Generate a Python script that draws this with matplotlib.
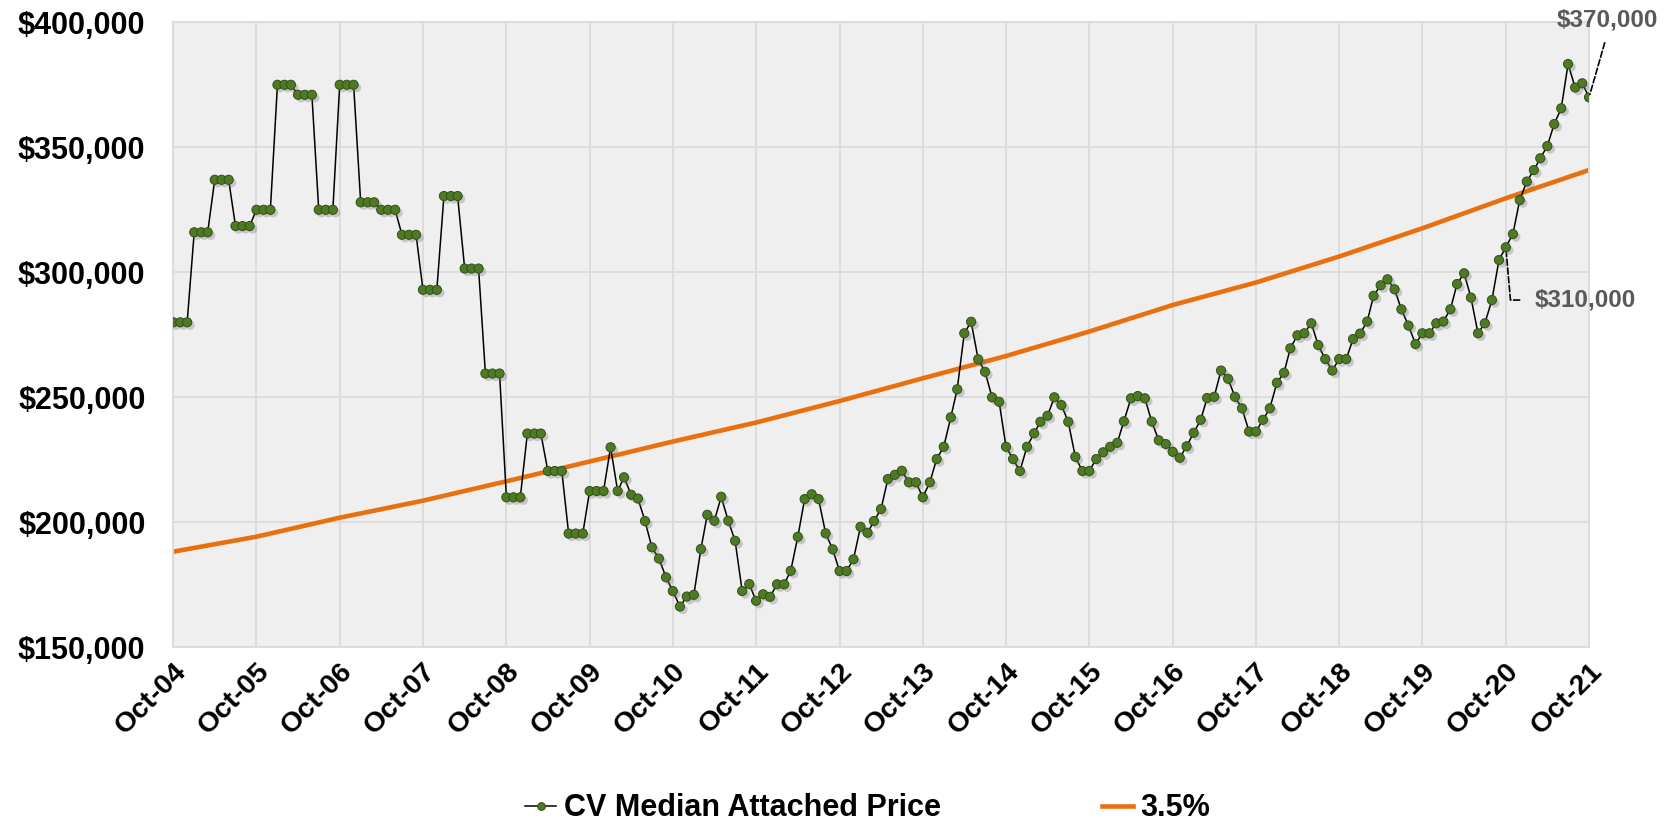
import matplotlib
matplotlib.use('Agg')
import matplotlib.pyplot as plt
import matplotlib.patheffects as pe
import pandas as pd

plt.rcParams['font.family'] = ['Liberation Sans', 'DejaVu Sans']

# ---- data (monthly median attached price, Oct-04 .. Oct-21) ----
price_2004 = [280000, 280000, 280000]  # Oct-Dec
price_2005 = [316000, 316000, 316000, 337000, 337000, 337000,
              318500, 318500, 318500, 325000, 325000, 325000]
price_2006 = [375000, 375000, 375000, 371000, 371000, 371000,
              325000, 325000, 325000, 375000, 375000, 375000]
price_2007 = [328000, 328000, 328000, 325000, 325000, 325000,
              315000, 315000, 315000, 293000, 293000, 293000]
price_2008 = [330500, 330500, 330500, 301500, 301500, 301500,
              259500, 259500, 259500, 210000, 210000, 210000]
price_2009 = [235500, 235500, 235500, 220500, 220500, 220500,
              195500, 195500, 195500, 212500, 212500, 212500]
price_2010 = [230000, 212500, 218000, 211000, 209500, 200500,
              190000, 185500, 178000, 172500, 166300, 170300]
price_2011 = [171000, 189300, 203000, 200600, 210200, 200600,
              192600, 172500, 175300, 168600, 171200, 170200]
price_2012 = [175200, 175200, 180600, 194200, 209300, 211200,
              209300, 195600, 189200, 180500, 180500, 185200]
price_2013 = [198200, 195800, 200500, 205300, 217300, 219000,
              220600, 216000, 216000, 210000, 216000, 225300]
price_2014 = [230200, 242000, 253200, 275600, 280200, 265200,
              260200, 250000, 248200, 230200, 225300, 220500]
price_2015 = [230200, 235600, 240200, 242600, 250000, 246900,
              240200, 226200, 220500, 220500, 225300, 228000]
price_2016 = [230200, 231800, 240400, 249600, 250500, 249600,
              240300, 232800, 231300, 228200, 225800, 230400]
price_2017 = [235800, 241000, 249700, 250200, 260700, 257400,
              250200, 245600, 236300, 236300, 241000, 245600]
price_2018 = [255800, 259800, 269600, 274800, 275600, 279600,
              270900, 265300, 260700, 265300, 265300, 273300]
price_2019 = [275500, 280300, 290600, 294800, 297200, 293200,
              285200, 278700, 271300, 275600, 275600, 279600]
price_2020 = [280300, 285200, 295300, 299600, 289900, 275600,
              279600, 288900, 304900, 310000, 315300, 328900]
price_2021 = [336300, 340900, 345600, 350500, 359300, 365600,
              383300, 373900, 375600, 370000]  # Jan-Oct

# 3.5% growth reference line, read at each October
trend_labels = ['Oct-04', 'Oct-05', 'Oct-06', 'Oct-07', 'Oct-08', 'Oct-09',
                'Oct-10', 'Oct-11', 'Oct-12', 'Oct-13', 'Oct-14', 'Oct-15',
                'Oct-16', 'Oct-17', 'Oct-18', 'Oct-19', 'Oct-20', 'Oct-21']
trend_values = [188240, 194240, 201840, 208640, 216400, 224300,
                232300, 239900, 248500, 257600, 266500, 276300,
                286900, 295900, 306300, 317600, 329600, 340900]

y_ticks = [150000, 200000, 250000, 300000, 350000, 400000]

series_name = 'CV Median Attached Price'
trend_name = '3.5%'
label_last = '$370,000'
label_oct20 = '$310,000'

# ---- assemble ----
price = (price_2004 + price_2005 + price_2006 + price_2007 + price_2008 +
         price_2009 + price_2010 + price_2011 + price_2012 + price_2013 +
         price_2014 + price_2015 + price_2016 + price_2017 + price_2018 +
         price_2019 + price_2020 + price_2021)
dates = pd.date_range('2004-10-01', periods=len(price), freq='MS')
trend_dates = pd.to_datetime(['20' + s[-2:] + '-10-01' for s in trend_labels])

GREEN = '#4F7A25'
GREEN_EDGE = '#324F16'
ORANGE = '#E8700E'
GRID = '#DADADA'
ANN = '#595959'

fig = plt.figure(figsize=(16.69, 8.25), dpi=100)
ax = fig.add_axes([0.1038, 0.2154, 0.8483, 0.7576])
ax.set_facecolor('#EFEFEF')

# connecting line
ax.plot(dates, price, color='black', lw=1.1, zorder=3)
# markers with soft shadow
ax.plot(dates, price, ls='none', marker='o', ms=6.6, mfc=GREEN, mec=GREEN_EDGE,
        mew=0.7, zorder=4,
        path_effects=[pe.SimplePatchShadow(offset=(2.2, -2.2), shadow_rgbFace='#7a7a7a',
                                           alpha=0.35), pe.Normal()])
# trend line
ax.plot(trend_dates, trend_values, color=ORANGE, lw=3.3, zorder=2,
        solid_capstyle='round')

ax.set_xlim(dates[0], dates[-1])
ax.set_ylim(y_ticks[0], y_ticks[-1])
ax.set_yticks(y_ticks)
ax.set_yticklabels(['${:,.0f}'.format(v) for v in y_ticks],
                   fontsize=22, fontweight='bold')
ax.set_xticks(trend_dates)
ax.set_xticklabels(trend_labels, rotation=45, ha='right', va='top',
                   rotation_mode='anchor', fontsize=20.5, fontweight='bold')
ax.tick_params(axis='both', length=0)
ax.tick_params(axis='y', pad=20)
ax.tick_params(axis='x', pad=8)
ax.grid(True, color=GRID, lw=1.3)
ax.set_axisbelow(True)
for sp in ax.spines.values():
    sp.set_color(GRID)
    sp.set_linewidth(1.3)

# annotations
ax.annotate(label_last, xy=(dates[-1], price[-1]), xytext=(13.5, 47),
            textcoords='offset points', ha='center', va='bottom',
            fontsize=17.5, fontweight='bold', color=ANN,
            annotation_clip=False,
            arrowprops=dict(arrowstyle='-', ls='--', color='black', lw=1.2,
                            shrinkA=6, shrinkB=2, relpos=(0.5, 0)))
i20 = list(dates).index(pd.Timestamp('2020-10-01'))
ax.annotate(label_oct20, xy=(dates[i20], price[i20]), xytext=(21, -38),
            textcoords='offset points', ha='left', va='center',
            fontsize=17.5, fontweight='bold', color=ANN,
            annotation_clip=False,
            arrowprops=dict(arrowstyle='-', ls='--', color='black', lw=1.2,
                            shrinkA=9, shrinkB=0, relpos=(0, 0.5),
                            connectionstyle='angle,angleA=0,angleB=95,rad=0'))

# legend
h1 = plt.Line2D([], [], color='black', lw=1.1, marker='o', ms=5.6, mfc=GREEN,
                mec=GREEN_EDGE, mew=0.7)
h2 = plt.Line2D([], [], color=ORANGE, lw=3.3)
fig.legend([h1, h2], [series_name, trend_name], loc='center',
           bbox_to_anchor=(0.52, 0.02), ncol=2, frameon=False,
           prop={'size': 22, 'weight': 'bold'}, handlelength=1.0,
           handletextpad=0.25, columnspacing=5.3)

fig.savefig('out.png', dpi=100)
